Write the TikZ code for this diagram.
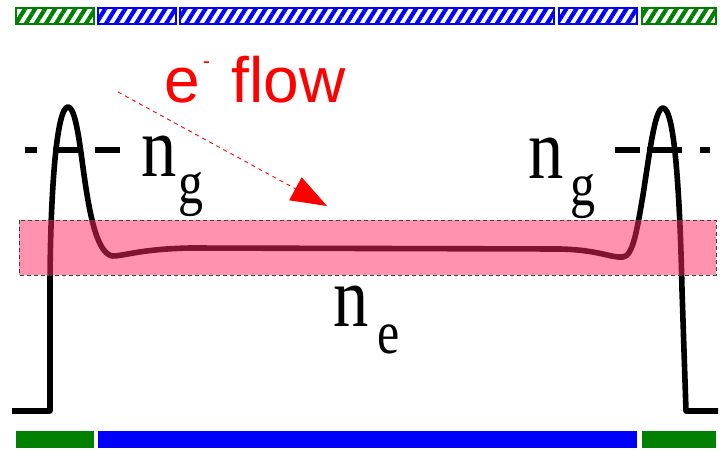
\documentclass[tikz,border=0pt]{standalone}
\usepackage{fontspec}
\usepackage{xcolor}
\usetikzlibrary{arrows.meta,patterns.meta}
\newfontfamily\densfont{Liberation Serif}
\newfontfamily\flowfont{Liberation Sans}
\definecolor{BarGreen}{HTML}{008000}
\definecolor{BarBlue}{HTML}{0000FF}
\definecolor{Plasma}{RGB}{255,40,95}
\definecolor{FlowRed}{HTML}{FF0000}
\definecolor{Edge}{HTML}{404040}
\newcommand{\dens}[2][3pt]{{\fontsize{86}{86}\selectfont n}\kern#1\raisebox{-27.6pt}{\fontsize{61}{61}\selectfont #2}}

\tikzset{
  hatched/.style={draw=#1,line width=1.2pt,pattern={Lines[angle=58,distance=8.5pt,line width=4.2pt]},pattern color=#1},
  solidbar/.style={fill=#1},
  profile/.style={line width=5.6pt,line join=round},
  level/.style={line width=6pt},
  dens/.style={font=\densfont,xscale=0.82,inner sep=0pt,anchor=base west},
}

\begin{document}
\begin{tikzpicture}[x=1pt,y=-1pt]
  \useasboundingbox (0,0) rectangle (720,450);
  % hatched bars
  \draw[hatched=BarGreen] (16,8) rectangle (94,24);
  \draw[hatched=BarBlue] (98,8) rectangle (176,24);
  \draw[hatched=BarBlue] (180,8) rectangle (554,24);
  \draw[hatched=BarBlue] (559,8) rectangle (637,24);
  \draw[hatched=BarGreen] (642,8) rectangle (716,24);
  % solid bars
  \fill[solidbar=BarGreen] (16,431) rectangle (94,448);
  \fill[solidbar=BarBlue] (98,431) rectangle (637,448);
  \fill[solidbar=BarGreen] (642,431) rectangle (716,448);
  % density profile
  \draw[profile] (12,411) -- (50,411) -- (50,290)
    .. controls (50,200) and (56,107) .. (68,107)
    .. controls (74,107) and (78,130) .. (82,160)
    .. controls (88,205) and (95,252) .. (112,256)
    .. controls (125,256) and (140,249) .. (190,248) -- (560,249)
    .. controls (600,250) and (610,258) .. (623,257)
    .. controls (633,256) and (637,230) .. (643,195)
    .. controls (650,150) and (655,108) .. (663,108)
    .. controls (675,108) and (680,200) .. (682,290) -- (686,411) -- (718,411);
  \draw[level] (25,150) -- (37,150) (53,150) -- (83,150) (95,150) -- (120,150);
  \draw[level] (615,150) -- (640,150) (647,150) -- (682,150) (700,150) -- (710,150);
  % plasma band
  \fill[Plasma,fill opacity=0.5] (19,220) rectangle (716,275);
  \draw[Edge,line width=0.9pt,dash pattern=on 4pt off 3pt] (19,220) rectangle (716,275);
  \node[dens] (ngleft) at (141,176) {\dens{g}};
  \node[dens] (ngright) at (528,178) {\dens[9pt]{g}};
  \node[dens] (ne) at (333,326) {\dens[11pt]{e}};
  \node[font=\flowfont,text=FlowRed,inner sep=0pt,anchor=base west] (flow) at (164,102)
    {\fontsize{64}{64}\selectfont e\kern3pt\raisebox{34pt}{\fontsize{22}{22}\selectfont -}\kern4pt\ flow};
  \coordinate (flowstart) at (118,92);
  \coordinate (flowend) at (327,206);
  \draw[FlowRed,line width=0.9pt,dash pattern=on 4pt off 4pt,-{Triangle[length=36pt,width=26pt]}] (flowstart) -- (flowend);
\end{tikzpicture}
\end{document}
